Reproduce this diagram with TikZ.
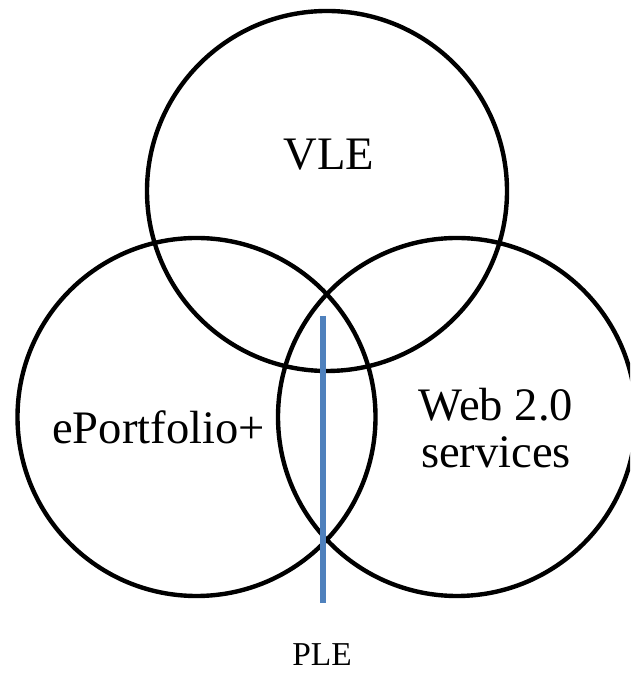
\documentclass[tikz,border=0pt]{standalone}
\usepackage{fontspec}
\setmainfont{Liberation Serif}
\usepackage{tikz}
\usetikzlibrary{arrows.meta}
\usepackage{xcolor}
\definecolor{pleblue}{HTML}{4F81BD}

\begin{document}
\begin{tikzpicture}[line cap=round,
  ring/.style={draw=black,line width=2.5pt,circle,minimum size=7.16cm,inner sep=0pt},
  label/.style={font=\fontsize{26.5}{27}\selectfont,inner sep=0pt,align=center}]
\useasboundingbox (0,0) rectangle (12.6,13.46);
\begin{scope}
\clip (0,0) rectangle (12.6,13.46);
\node[ring,minimum size=7.2cm] (vle) at (6.54,9.64) {};
\node[ring] (eport) at (3.93,5.12) {};
\node[ring] (web) at (9.14,5.12) {};
\end{scope}
\node[label,anchor=base] (vletxt) at (6.58,10.06) {VLE};
\node[label,anchor=base] (eporttxt) at (3.17,4.58) {ePortfolio+};
\node[label] (webtxt) at (9.92,4.9) {Web 2.0\\services};
\node[inner sep=0pt,anchor=base,font=\fontsize{19}{20}\selectfont] (ple) at (6.44,0.14) {PLE};
\coordinate (pletop) at (6.46,7.14);
\coordinate (plebot) at (6.46,1.40);
\draw[pleblue,line width=3pt,line cap=butt] (pletop) -- (plebot);
\end{tikzpicture}
\end{document}
